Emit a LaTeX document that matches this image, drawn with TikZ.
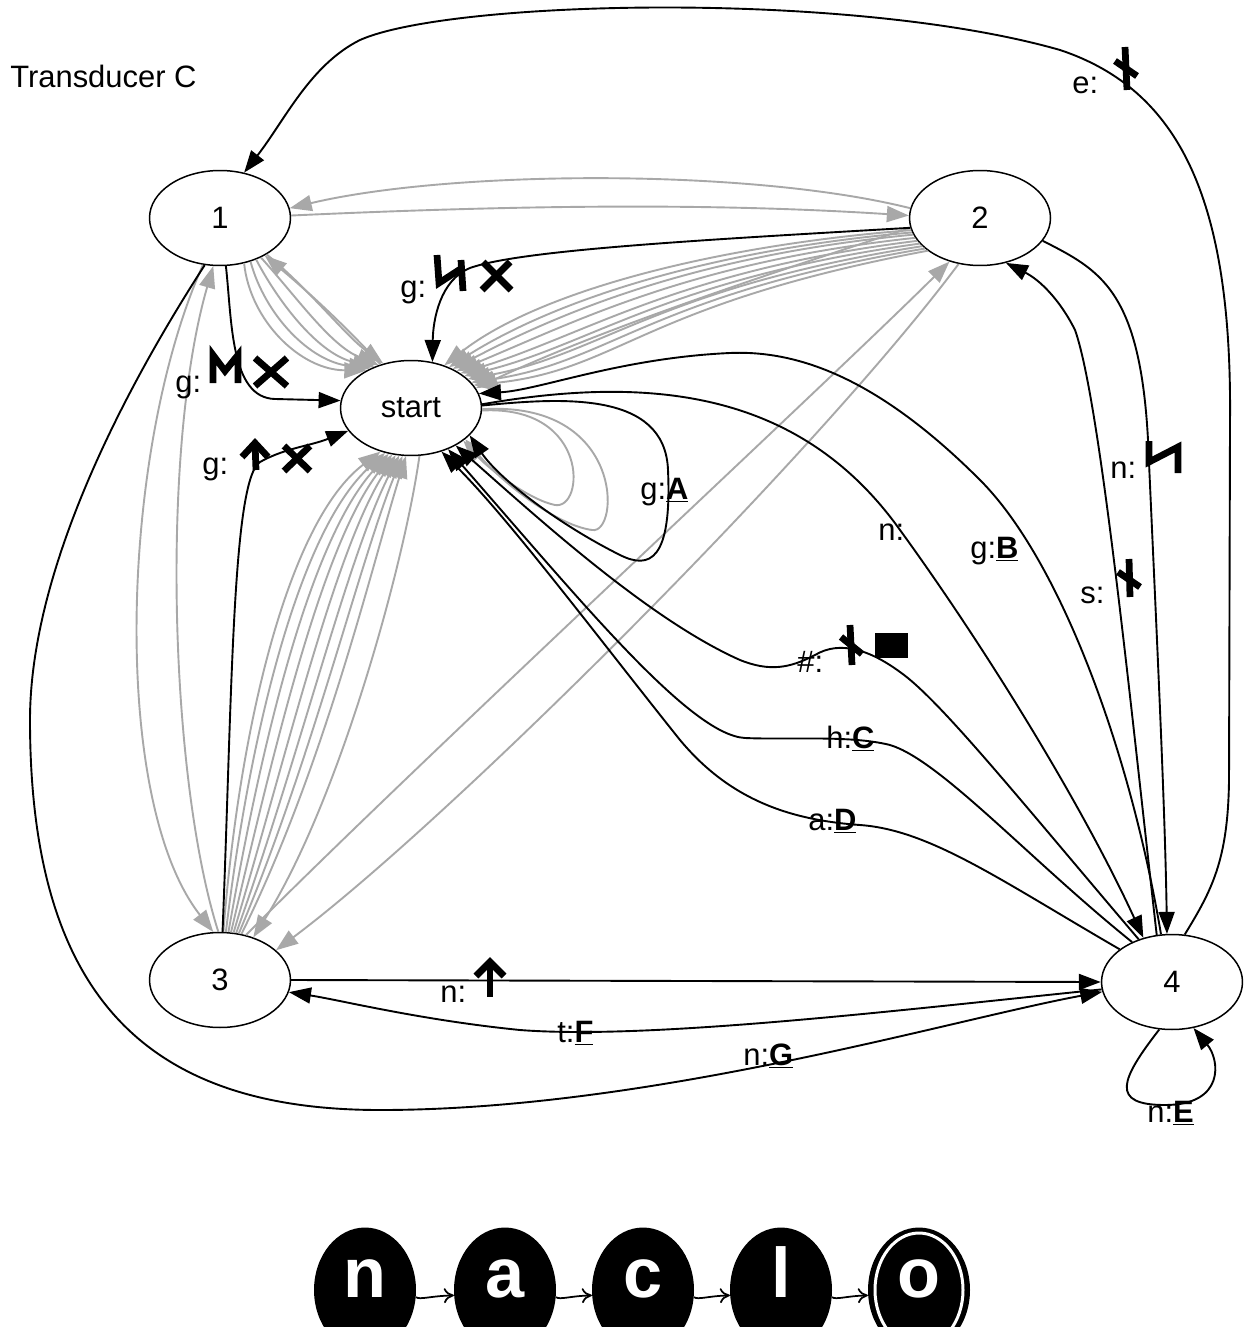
\documentclass[tikz,border=0pt]{standalone}
\usepackage{fontspec}
\setmainfont{Liberation Sans}
\usetikzlibrary{shapes.geometric,arrows.meta}
\definecolor{lg}{RGB}{168,168,168}
\begin{document}
\begin{tikzpicture}[x=0.02cm,y=-0.02cm,
  txt/.style={font=\fontsize{17.6}{20}\selectfont},
  state/.style={draw,ellipse,line width=0.03cm,minimum width=2.82cm,minimum height=1.9cm,inner sep=0pt,txt},
  tipA/.style={-{Triangle[length=0.44cm,width=0.32cm]}},
  bedge/.style={line width=0.038cm,tipA},
  gedge/.style={line width=0.038cm,tipA,color=lg},
  lbl/.style={txt,inner sep=0pt,anchor=base west},
  glyph/.style={line width=0.135cm,line join=miter},
  logo/.style={ellipse,fill=black,minimum width=2.04cm,minimum height=2.5cm,inner sep=0pt},
  logoletter/.style={text=white,font=\fontsize{40}{40}\selectfont\bfseries,inner sep=0pt,anchor=base},
  logoarrow/.style={line width=0.035cm,-{To[length=0.2cm,width=0.3cm]}}
]
\fill[white] (0,0) rectangle (1243,1327);
\useasboundingbox (0,0) rectangle (1243,1327);
\clip (0,0) rectangle (1243,1327);

% title
\node[lbl] (title) at (10,88) {Transducer C};

% states
\node[state] (n1) at (220,218) {1};
\node[state] (n2) at (980,218) {2};
\node[state] (st) at (411,408) {start};
\node[state] (n3) at (220,980) {3};
\node[state] (n4) at (1172,982) {4};

% ---------- gray edges ----------
% 1 <-> 2
\draw[gedge] (n2.172) .. controls (750,168) and (450,170) .. (n1.8);
\draw[gedge] (n1.2) .. controls (500,206) and (700,202) .. (n2.178);
% 1 -> start
\draw[gedge] (n1.-62) .. controls (250,320) and (300,370) .. (st.140);
\draw[gedge] (n1.-55) .. controls (265,315) and (310,362) .. (st.135);
\draw[gedge] (n1.-49) .. controls (280,305) and (320,355) .. (st.131);
\draw[gedge] (n1.-44) .. controls (295,295) and (330,345) .. (st.127);
\draw[gedge] (n1.-38) .. controls (310,290) and (345,335) .. (st.122);
\draw[gedge] (st.125) .. controls (340,320) and (300,285) .. (n1.-40);
% 2 -> start
\draw[gedge] (n2.190) .. controls (720,245) and (540,290) .. (st.52);
\draw[gedge] (n2.192) .. controls (710,250) and (555,300) .. (st.47);
\draw[gedge] (n2.194) .. controls (700,255) and (565,310) .. (st.43);
\draw[gedge] (n2.197) .. controls (690,262) and (575,322) .. (st.39);
\draw[gedge] (n2.200) .. controls (680,270) and (585,335) .. (st.35);
\draw[gedge] (n2.203) .. controls (670,278) and (590,345) .. (st.31);
\draw[gedge] (n2.206) .. controls (660,287) and (600,355) .. (st.27);
\draw[gedge] (n2.209) .. controls (650,295) and (610,362) .. (st.23);
\draw[gedge] (n2.212) .. controls (640,305) and (620,370) .. (st.20);
\draw[gedge] (n2.188) .. controls (750,280) and (600,330) .. (st.17);
% 3 -> start
\draw[gedge] (n3.86) .. controls (240,720) and (290,520) .. (st.-125);
\draw[gedge] (n3.83) .. controls (250,730) and (300,530) .. (st.-120);
\draw[gedge] (n3.80) .. controls (262,740) and (310,540) .. (st.-116);
\draw[gedge] (n3.77) .. controls (275,745) and (322,545) .. (st.-112);
\draw[gedge] (n3.74) .. controls (288,750) and (335,550) .. (st.-108);
\draw[gedge] (n3.71) .. controls (300,755) and (348,555) .. (st.-104);
\draw[gedge] (n3.68) .. controls (312,760) and (360,560) .. (st.-100);
\draw[gedge] (n3.65) .. controls (325,765) and (372,565) .. (st.-96);
\draw[gedge] (st.-80) .. controls (405,560) and (340,800) .. (n3.52);
% 1 <-> 3
\draw[gedge] (n1.-110) .. controls (120,450) and (110,800) .. (n3.98);
\draw[gedge] (n3.92) .. controls (170,780) and (160,450) .. (n1.-98);
% 3 <-> 2
\draw[gedge] (n3.60) .. controls (420,760) and (820,390) .. (n2.-125);
\draw[gedge] (n2.-115) .. controls (820,450) and (450,820) .. (n3.28);
% start self loops (gray)
\draw[gedge] (st.-2) .. controls (590,405) and (585,510) .. (555,505) .. controls (530,500) and (490,470) .. (st.-32);
\draw[gedge] (st.-1) .. controls (625,400) and (620,535) .. (592,530) .. controls (555,525) and (500,480) .. (st.-30);

% ---------- black edges ----------
% 4 -> 1  (e:)
\draw[bedge] (n4.75) .. controls (1212,890) and (1228,860) .. (1229,780) -- (1230,420)
  .. controls (1232,200) and (1180,90) .. (1060,50)
  .. controls (850,-10) and (450,0) .. (360,40)
  .. controls (310,65) and (285,120) .. (n1.62);
% 2 -> start (g: glyph X)
\draw[bedge] (n2.188) .. controls (700,240) and (520,250) .. (470,268) .. controls (440,280) and (433,320) .. (st.65);
% 1 -> start (g: M X)
\draw[bedge] (n1.-83) .. controls (232,320) and (230,398) .. (275,399) -- (st.174);
% 3 -> start (g: arrow X)
\draw[bedge] (n3.87) .. controls (232,700) and (232,480) .. (260,462) .. controls (285,448) and (310,446) .. (st.200);
% start self loop g:A
\draw[bedge] (st.2) .. controls (560,398) and (665,390) .. (668,470) .. controls (672,560) and (650,570) .. (620,555) .. controls (560,525) and (500,480) .. (st.-25);
% start -> 4 (n:)
\draw[bedge] (st.3) .. controls (650,375) and (800,390) .. (900,530) .. controls (980,640) and (1080,800) .. (n4.123);
% 4 -> start (g:B)
\draw[bedge] (n4.103) .. controls (1130,750) and (1060,560) .. (980,480) .. controls (880,380) and (800,350) .. (730,353) .. controls (620,358) and (540,390) .. (st.12);
% 4 -> start (#:)
\draw[bedge] (n4.128) .. controls (1020,800) and (940,700) .. (900,672) .. controls (870,650) and (840,640) .. (815,655) .. controls (790,668) and (770,672) .. (740,660) .. controls (650,620) and (540,520) .. (st.-40);
% 4 -> start (h:C)
\draw[bedge] (n4.135) .. controls (1030,860) and (940,760) .. (890,745) .. controls (850,735) and (790,740) .. (745,738) .. controls (690,735) and (580,600) .. (st.-48);
% 4 -> start (a:D)
\draw[bedge] (n4.148) .. controls (1000,880) and (930,830) .. (860,825) .. controls (790,820) and (730,800) .. (680,740) .. controls (600,640) and (510,520) .. (st.-55);
% 2 -> 4 (n:)
\draw[bedge] (n2.-20) .. controls (1100,270) and (1140,290) .. (1148,440) .. controls (1155,600) and (1165,800) .. (n4.96);
% 4 -> 2 (s:)
\draw[bedge] (n4.108) .. controls (1130,700) and (1100,400) .. (1075,330) .. controls (1060,300) and (1040,280) .. (n2.-60);
% 3 -> 4 (n:)
\draw[bedge] (n3.0) -- (n4.180);
% 4 -> 3 (t:F)
\draw[bedge] (n4.186) .. controls (900,1010) and (650,1040) .. (520,1030) .. controls (420,1020) and (340,1000) .. (n3.-10);
% 1 -> 4 (n:G)
\draw[bedge] (n1.-108) .. controls (150,350) and (30,550) .. (30,720) .. controls (30,1000) and (150,1110) .. (380,1110) .. controls (650,1110) and (950,1020) .. (n4.188);
% 4 self loop (n:E)
\draw[bedge] (n4.-105) .. controls (1120,1080) and (1110,1105) .. (1165,1105) .. controls (1225,1105) and (1220,1060) .. (n4.-65);

% ---------- labels ----------
\node[lbl] (l1) at (400,298) {g:};
\draw[glyph] (437,255) -- (439,283) -- (462,268);
\draw[glyph] (461,260) -- (463,291);
\draw[glyph] (483,262) -- (511,290);
\draw[glyph] (510,262) -- (482,290);

\node[lbl] (l2) at (175,393) {g:};
\draw[glyph] (213,383) -- (213,355) -- (225,371) -- (238,355) -- (238,383);
\draw[glyph] (255,358) -- (287,386);
\draw[glyph] (287,358) -- (255,386);

\node[lbl] (l3) at (202,474) {g:};
\draw[glyph] (255,443) -- (256,470);
\draw[glyph] (242,457) -- (255,443) -- (268,457);
\draw[glyph] (284,446) -- (310,471);
\draw[glyph] (310,446) -- (284,471);

\node[lbl] (l4) at (1072,94) {e:};
\draw[glyph] (1125,47) -- (1127,90);
\draw[glyph] (1115,61) -- (1137,76);

\node[lbl] (l5) at (1110,478) {n:};
\draw[glyph] (1149,441) -- (1149,462) -- (1178,447) -- (1178,473);

\node[lbl] (l6) at (1080,603) {s:};
\draw[glyph] (1129,559) -- (1130,597);
\draw[glyph] (1118,572) -- (1140,587);

\node[lbl] (l7) at (797,672) {\#:};
\draw[glyph] (850,625) -- (852,665);
\draw[glyph] (841,637) -- (862,654);
\fill (875,633) rectangle (908,658);

\node[lbl] (l8) at (440,1002) {n:};
\draw[glyph] (490,962) -- (490,997);
\draw[glyph] (476,976) -- (490,962) -- (504,976);

\node[lbl] (l9) at (640,499) {g:\underline{\textbf{A}}};
\node[lbl] (l10) at (878,540) {n:};
\node[lbl] (l11) at (970,558) {g:\underline{\textbf{B}}};
\node[lbl] (l12) at (826,748) {h:\underline{\textbf{C}}};
\node[lbl] (l13) at (808,830) {a:\underline{\textbf{D}}};
\node[lbl] (l14) at (557,1042) {t:\underline{\textbf{F}}};
\node[lbl] (l15) at (743,1065) {n:\underline{\textbf{G}}};
\node[lbl] (l16) at (1147,1122) {n:\underline{\textbf{E}}};

% ---------- logo ----------
\node[logo] (ga) at (365,1290) {};
\node[logo] (gb) at (505,1290) {};
\node[logo] (gc) at (643,1290) {};
\node[logo] (gd) at (781,1290) {};
\node[logo] (ge) at (919,1290) {};
\draw[white,line width=0.06cm] (919,1290) ellipse (44 and 57);
\node[logoletter] (ta) at (365,1297) {n};
\node[logoletter] (tb) at (505,1297) {a};
\node[logoletter] (tc) at (643,1297) {c};
\node[logoletter] (td) at (781,1297) {l};
\node[logoletter] (te) at (919,1297) {o};
\draw[logoarrow] (ga.-8) .. controls (420,1300) and (430,1296) .. (gb.186);
\draw[logoarrow] (gb.-8) .. controls (560,1300) and (570,1296) .. (gc.186);
\draw[logoarrow] (gc.-8) .. controls (698,1300) and (708,1296) .. (gd.186);
\draw[logoarrow] (gd.-8) .. controls (836,1300) and (846,1296) .. (ge.186);
\end{tikzpicture}
\end{document}
